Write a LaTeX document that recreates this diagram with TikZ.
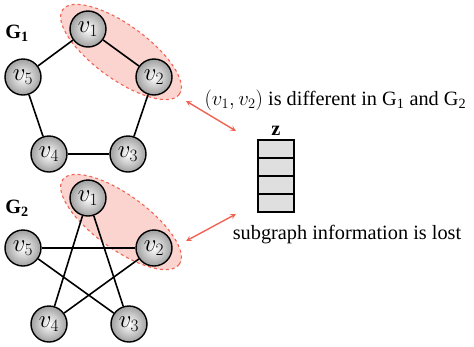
\documentclass[tikz,border=0pt]{standalone}
\usepackage{fontspec}
\setmainfont{Liberation Serif}
\usetikzlibrary{shapes.geometric, arrows}
\definecolor{salmon}{RGB}{240,100,85}
\definecolor{blush}{RGB}{252,212,207}
\tikzset{
  vert/.style={circle, draw, line width=1.4pt, minimum size=36pt, inner sep=0pt, inner color=white, outer color=gray!75, font=\fontsize{23}{24}\selectfont},
  edge/.style={line width=1.6pt},
  blob/.style={draw=salmon, dashed, line width=1.1pt, fill=blush},
  cell/.style={draw, line width=1.6pt, fill=gray!25},
  pointer/.style={salmon, line width=1.4pt, stealth-stealth}
}
\begin{document}
\begin{tikzpicture}[x=1pt, y=-1pt, font=\fontsize{20.3}{22}\selectfont]
      \useasboundingbox (0,0) rectangle (474,346);
      \filldraw[blob, rotate around={-36:(121,52)}] (121,52) ellipse (72 and 27);
      \filldraw[blob, rotate around={-36:(121,222)}] (121,222) ellipse (72 and 27);
      \node (la) at (17,33) {\textbf{G\textsubscript{1}}};
      \node (lb) at (17,208) {\textbf{G\textsubscript{2}}};
      \node[vert] (a1) at (88,29) {$v_1$};
      \node[vert] (a2) at (154,77) {$v_2$};
      \node[vert] (a3) at (128,154) {$v_3$};
      \node[vert] (a4) at (49,154) {$v_4$};
      \node[vert] (a5) at (23,77) {$v_5$};
      \draw[edge] (a1) -- (a2);
      \draw[edge] (a2) -- (a3);
      \draw[edge] (a3) -- (a4);
      \draw[edge] (a4) -- (a5);
      \draw[edge] (a5) -- (a1);
      \node[vert] (b1) at (88,198) {$v_1$};
      \node[vert] (b2) at (154,248) {$v_2$};
      \node[vert] (b3) at (129,324) {$v_3$};
      \node[vert] (b4) at (49,324) {$v_4$};
      \node[vert] (b5) at (23,248) {$v_5$};
      \draw[edge] (b1) -- (b3);
      \draw[edge] (b1) -- (b4);
      \draw[edge] (b5) -- (b2);
      \draw[edge] (b5) -- (b3);
      \draw[edge] (b2) -- (b4);
      \node[anchor=west] (diff) at (201,100) {$(v_1, v_2)$ is different in G\textsubscript{1} and G\textsubscript{2}};
      \node (zname) at (276,131) {\textbf{z}};
      \foreach \i in {0,1,2,3}
        \draw[cell] (258,140+18*\i) rectangle (294,158+18*\i);
      \node (lost) at (347,235) {subgraph information is lost};
      \coordinate (ta) at (186,101);
      \coordinate (tb) at (236,131);
      \coordinate (ba) at (186,241);
      \coordinate (bb) at (236,214);
      \draw[pointer] (ta) -- (tb);
      \draw[pointer] (ba) -- (bb);
\end{tikzpicture}
\end{document}
